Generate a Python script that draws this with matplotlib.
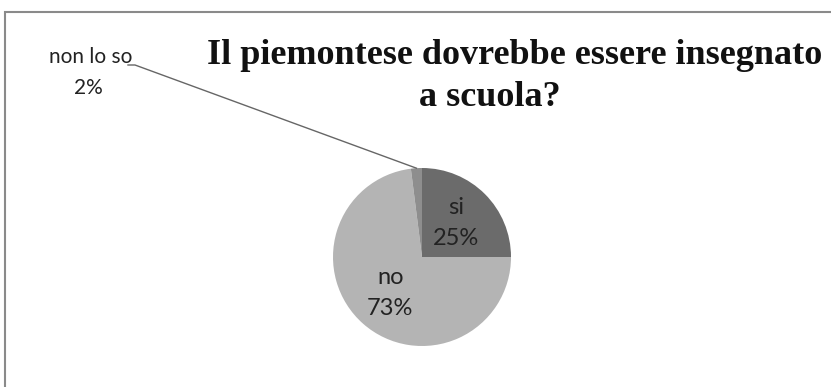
import matplotlib
matplotlib.use('Agg')
import matplotlib.pyplot as plt
import numpy as np
from matplotlib.patches import Rectangle
from matplotlib.lines import Line2D

labels = ['si', 'no', 'non lo so']
values = [25, 73, 2]
colors = ['#6b6b6b', '#b4b4b4', '#8e8e8e']

W, H = 831, 387
fig = plt.figure(figsize=(W / 100, H / 100), dpi=100)
fig.patch.set_facecolor('white')

# frame (only top and left visible in the crop)
fig.patches.append(Rectangle((5 / W, -0.2), 1.2, (H - 12) / H + 0.2,
                             transform=fig.transFigure, fill=False,
                             edgecolor='#8a8a8a', linewidth=1.5))

cx, cy, r = 422, 257, 89
ax = fig.add_axes([(cx - r) / W, (H - cy - r) / H, 2 * r / W, 2 * r / H])
wedges, _ = ax.pie(values, colors=colors, startangle=90, counterclock=False,
                   radius=1.0, wedgeprops=dict(linewidth=0))
ax.set_xlim(-1, 1)
ax.set_ylim(-1, 1)
ax.set_aspect('equal')
ax.axis('off')

lab_font = dict(family='Lato', fontsize=17, color='#222222')
total = sum(values)
for w, lab, v in zip(wedges[:2], labels[:2], values[:2]):
    ang = np.deg2rad((w.theta1 + w.theta2) / 2)
    d = 0.54
    ax.text(d * np.cos(ang), d * np.sin(ang), f'{lab}\n{round(100 * v / total)}%',
            ha='center', va='center', linespacing=1.55, **lab_font)

# small slice label with leader line
w = wedges[2]
ang = np.deg2rad((w.theta1 + w.theta2) / 2)
ex, ey = ax.transData.transform((np.cos(ang), np.sin(ang)))
fig.add_artist(Line2D([ex / W, 135 / W, 128 / W], [ey / H, (H - 65) / H, (H - 65) / H],
                      transform=fig.transFigure, color='#666666', linewidth=1))
side_font = dict(lab_font, fontsize=15)
fig.text(91 / W, (H - 57) / H, labels[2], ha='center', va='center', **side_font)
fig.text(88 / W, (H - 88) / H, f'{round(100 * values[2] / total)}%',
         ha='center', va='center', **side_font)

title_font = dict(family='Liberation Serif', fontweight='bold', fontsize=26, color='#111111')
fig.text(515 / W, (H - 56) / H, 'Il piemontese dovrebbe essere insegnato',
         ha='center', va='center', **title_font)
fig.text(490 / W, (H - 98) / H, 'a scuola?', ha='center', va='center', **title_font)

fig.savefig('out.png', dpi=100)
